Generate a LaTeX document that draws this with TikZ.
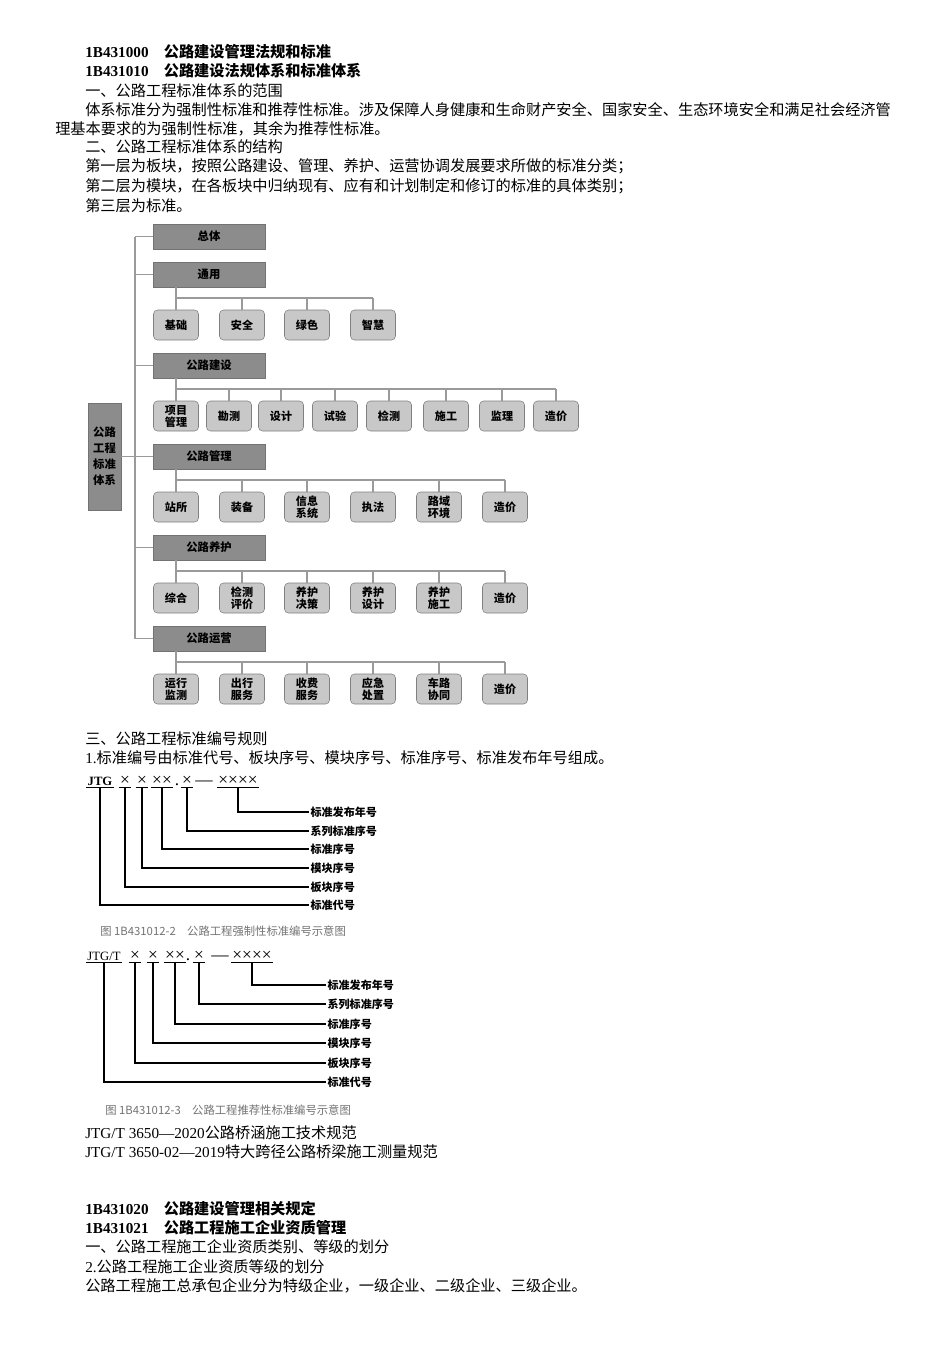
\documentclass[tikz,border=0pt]{standalone}
\usepackage{fontspec}
\setmainfont{Liberation Serif}
\newfontfamily\cjk{Noto Sans CJK SC}
\usetikzlibrary{calc}
\definecolor{pgray}{HTML}{8C8C8C}
\definecolor{lgray}{HTML}{C8C8C8}
\definecolor{lcol}{HTML}{9A9A9A}
\begin{document}
\begin{tikzpicture}[x=0.75pt,y=-0.75pt,
  txt/.style={anchor=base west,inner sep=0,font=\fontsize{11.4}{13}\selectfont},
  par/.style={draw=black!55,fill=pgray,minimum width=84pt,minimum height=18.75pt,inner sep=0,font=\cjk\bfseries\fontsize{8.5}{9}\selectfont},
  ch/.style={draw=black!50,fill=lgray,rounded corners=3pt,minimum width=33.75pt,minimum height=22.5pt,inner sep=0,align=center,font=\cjk\bfseries\fontsize{8.3}{9}\selectfont},
  ln/.style={draw=lcol,line width=1pt},
  cl/.style={draw=black,line width=0.9pt},
  seg/.style={inner sep=1pt,anchor=base,font=\bfseries\fontsize{9.5}{10}\selectfont},
  xs/.style={inner sep=1pt,anchor=base,font=\fontsize{13}{13}\selectfont},
  lab/.style={anchor=west,inner sep=1pt,font=\cjk\bfseries\fontsize{8.3}{9}\selectfont},
  captxt/.style={anchor=base west,inner sep=0,text=black!55,font=\cjk\fontsize{8.5}{9}\selectfont}]
\useasboundingbox[fill=white] (0,0) rectangle (950,1345);
% header text
\node[txt] (h1) at (85,58) {\textbf{1B431000}\quad{\cjk\bfseries 公路建设管理法规和标准}};
\node[txt] (h2) at (85,77) {\textbf{1B431010}\quad{\cjk\bfseries 公路建设法规体系和标准体系}};
\node[txt] (h3) at (85,96) {\cjk 一、公路工程标准体系的范围};
\node[txt] (h4) at (85,115) {\cjk 体系标准分为强制性标准和推荐性标准。涉及保障人身健康和生命财产安全、国家安全、生态环境安全和满足社会经济管};
\node[txt] (h5) at (55,134) {\cjk 理基本要求的为强制性标准，其余为推荐性标准。};
\node[txt] (h6) at (85,152) {\cjk 二、公路工程标准体系的结构};
\node[txt] (h7) at (85,171) {\cjk 第一层为板块，按照公路建设、管理、养护、运营协调发展要求所做的标准分类；};
\node[txt] (h8) at (85,191) {\cjk 第二层为模块，在各板块中归纳现有、应有和计划制定和修订的标准的具体类别；};
\node[txt] (h9) at (85,211) {\cjk 第三层为标准。};
% chart
\node[par,minimum width=24.75pt,minimum height=80pt,align=center,font=\cjk\bfseries\fontsize{8.5}{12}\selectfont] (root) at (104.5,456.5) {公路\\工程\\标准\\体系};
\coordinate (trunk) at (135,0);
\node[par] (p0) at (209,236.5) {总体};
\node[par] (p1) at (209,274.5) {通用};
\node[par] (p2) at (209,365.5) {公路建设};
\node[par] (p3) at (209,456.5) {公路管理};
\node[par] (p4) at (209,547.5) {公路养护};
\node[par] (p5) at (209,638.5) {公路运营};
\draw[ln] (p0.west -| trunk) -- (p5.west -| trunk);
\foreach \p in {p0,p1,p2,p3,p4,p5} \draw[ln] (\p.west) -- (\p.west -| trunk);
\draw[ln] (root.east) -- (root.east -| trunk);
% groups
\foreach \n/\x/\t in {a1/176/基础,a2/242/安全,a3/307/绿色,a4/373/智慧} \node[ch] (\n) at (\x,325) {\t};
\foreach \n/\x/\t in {b1/176/{项目\\管理},b2/229/勘测,b3/281/设计,b4/335/试验,b5/389/检测,b6/446/施工,b7/502/监理,b8/556/造价} \node[ch] (\n) at (\x,416) {\t};
\foreach \n/\x/\t in {c1/176/站所,c2/242/装备,c3/307/{信息\\系统},c4/373/执法,c5/439/{路域\\环境},c6/505/造价} \node[ch] (\n) at (\x,507) {\t};
\foreach \n/\x/\t in {d1/176/综合,d2/242/{检测\\评价},d3/307/{养护\\决策},d4/373/{养护\\设计},d5/439/{养护\\施工},d6/505/造价} \node[ch] (\n) at (\x,598) {\t};
\foreach \n/\x/\t in {e1/176/{运行\\监测},e2/242/{出行\\服务},e3/307/{收费\\服务},e4/373/{应急\\处置},e5/439/{车路\\协同},e6/505/造价} \node[ch] (\n) at (\x,689) {\t};
\foreach \g/\p/\k/\by in {a/p1/4/298,b/p2/8/389,c/p3/6/480,d/p4/6/571,e/p5/6/662}{
  \coordinate (bus) at (0,\by);
  \draw[ln] (\p.south -| \g1) -- (\g1.north);
  \draw[ln] (\g1.north |- bus) -- (\g\k.north |- bus);
  \foreach \i in {2,...,\k} \draw[ln] (\g\i.north) -- (\g\i.north |- bus);
}
% section 3
\node[txt] (t1) at (85,744) {\cjk 三、公路工程标准编号规则};
\node[txt] (t2) at (85,763) {1.{\cjk 标准编号由标准代号、板块序号、模块序号、标准序号、标准发布年号组成。}};
% code diagram 1
\node[seg] (s1) at (100,785) {JTG};
\foreach \n/\x/\t in {s2/125/×,s3/142/×,s4/162/××,s5/187/×,s7/238/××××} \node[xs] (\n) at (\x,785) {\t};
\node[xs] (dot1) at (177,785) {.};
\node[xs] (dash1) at (204,785) {—};
\foreach \n in {s1,s2,s3,s4,s5,s7} \draw[cl,line width=0.6pt] ([yshift=-2pt]\n.base west) -- ([yshift=-2pt]\n.base east);
\foreach \n/\y/\t in {l1/812/标准发布年号,l2/831/系列标准序号,l3/849/标准序号,l4/868/模块序号,l5/887/板块序号,l6/905/标准代号} \node[lab] (\n) at (309,\y) {\t};
\draw[cl] ([yshift=-2pt]s7.base) |- (l1.west);
\draw[cl] ([yshift=-2pt]s5.base) |- (l2.west);
\draw[cl] ([yshift=-2pt]s4.base) |- (l3.west);
\draw[cl] ([yshift=-2pt]s3.base) |- (l4.west);
\draw[cl] ([yshift=-2pt]s2.base) |- (l5.west);
\draw[cl] ([yshift=-2pt]s1.base) |- (l6.west);
\node[captxt] (c1cap) at (100,935) {图 1B431012-2\quad 公路工程强制性标准编号示意图};
% code diagram 2
\node[seg,font=\fontsize{9.5}{10}\selectfont] (u1) at (104,960) {JTG/T};
\foreach \n/\x/\t in {u2/135/×,u3/153/×,u4/175/××,u5/199/×,u7/252/××××} \node[xs] (\n) at (\x,960) {\t};
\node[xs] (dot2) at (188,960) {.};
\node[xs] (dash2) at (220,960) {—};
\foreach \n in {u1,u2,u3,u4,u5,u7} \draw[cl,line width=0.6pt] ([yshift=-2pt]\n.base west) -- ([yshift=-2pt]\n.base east);
\foreach \n/\y/\t in {m1/985/标准发布年号,m2/1004/系列标准序号,m3/1024/标准序号,m4/1043/模块序号,m5/1063/板块序号,m6/1082/标准代号} \node[lab] (\n) at (326,\y) {\t};
\draw[cl] ([yshift=-2pt]u7.base) |- (m1.west);
\draw[cl] ([yshift=-2pt]u5.base) |- (m2.west);
\draw[cl] ([yshift=-2pt]u4.base) |- (m3.west);
\draw[cl] ([yshift=-2pt]u3.base) |- (m4.west);
\draw[cl] ([yshift=-2pt]u2.base) |- (m5.west);
\draw[cl] ([yshift=-2pt]u1.base) |- (m6.west);
\node[captxt] (c2cap) at (105,1114) {图 1B431012-3\quad 公路工程推荐性标准编号示意图};
% bottom text
\node[txt] (b1t) at (85,1138) {JTG/T 3650—2020{\cjk 公路桥涵施工技术规范}};
\node[txt] (b2t) at (85,1157) {JTG/T 3650-02—2019{\cjk 特大跨径公路桥梁施工测量规范}};
\node[txt] (b3t) at (85,1214) {\textbf{1B431020}\quad{\cjk\bfseries 公路建设管理相关规定}};
\node[txt] (b4t) at (85,1233) {\textbf{1B431021}\quad{\cjk\bfseries 公路工程施工企业资质管理}};
\node[txt] (b5t) at (85,1252) {\cjk 一、公路工程施工企业资质类别、等级的划分};
\node[txt] (b6t) at (85,1272) {2.{\cjk 公路工程施工企业资质等级的划分}};
\node[txt] (b7t) at (85,1291) {\cjk 公路工程施工总承包企业分为特级企业，一级企业、二级企业、三级企业。};
\end{tikzpicture}
\end{document}
